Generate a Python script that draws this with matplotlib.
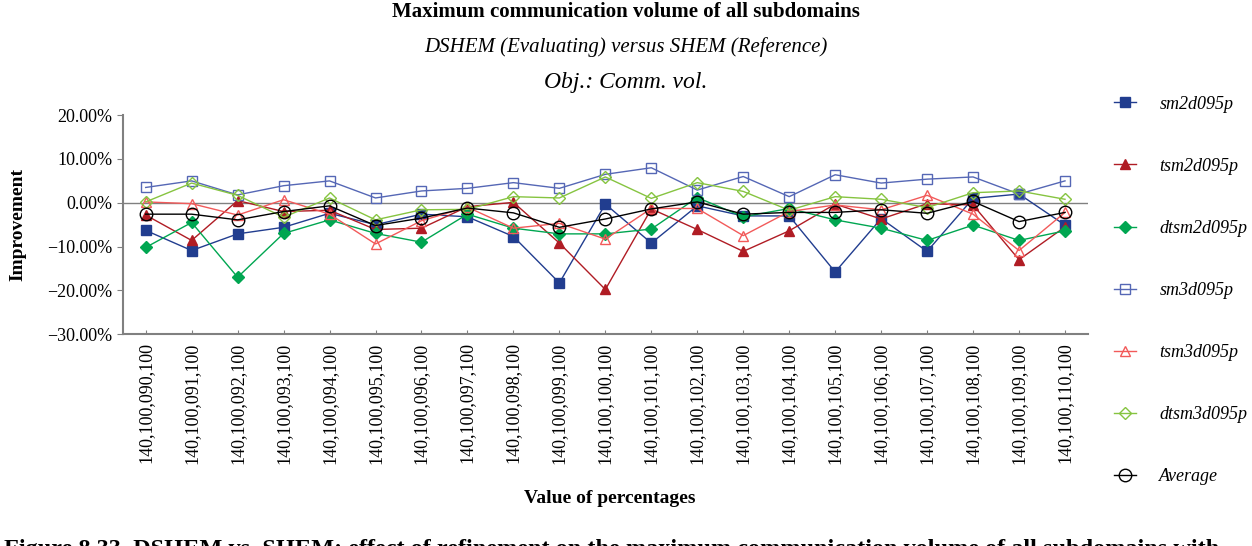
import numpy as np
import matplotlib.pyplot as plt
from matplotlib.ticker import FuncFormatter

plt.rcParams['font.family'] = ['Liberation Serif', 'DejaVu Serif']

categories = ['140,100,%03d,100' % p for p in range(90, 111)]

sm2d = [-6.3, -10.9, -7.1, -5.6, -2.4, -5.0, -2.6, -3.2, -7.7, -18.3, -0.3,
        -9.2, -0.7, -3.0, -3.0, -15.8, -3.6, -11.1, 1.0, 2.0, -5.1]
tsm2d = [-2.8, -8.6, 0.5, -2.0, -1.7, -6.1, -5.8, -0.9, 0.1, -9.2, -19.8,
         -1.4, -6.1, -11.1, -6.4, -0.3, -3.7, -0.2, -0.5, -13.0, -5.5]
dtsm2d = [-10.2, -4.5, -17.0, -7.0, -3.9, -7.0, -9.0, -2.6, -5.8, -7.1, -7.1,
          -6.0, 1.2, -3.2, -1.3, -3.9, -5.8, -8.6, -5.1, -8.6, -6.4]
sm3d = [3.5, 5.0, 1.8, 3.9, 5.0, 1.1, 2.7, 3.3, 4.6, 3.3, 6.5,
        8.0, 2.9, 6.0, 1.4, 6.4, 4.5, 5.4, 5.9, 2.0, 5.0]
tsm3d = [0.2, -0.2, -2.8, 0.7, -2.6, -9.4, -4.1, -1.0, -5.8, -4.7, -8.3,
         -1.3, -1.3, -7.5, -2.0, -0.5, -1.6, 1.7, -2.6, -10.9, -2.2]
dtsm3d = [0.2, 4.5, 1.7, -3.3, 1.1, -3.9, -1.6, -1.5, 1.4, 1.1, 5.9,
          1.0, 4.6, 2.6, -1.7, 1.4, 0.8, -1.1, 2.3, 2.7, 0.8]
average = [-2.6, -2.6, -3.9, -2.0, -0.7, -5.2, -3.5, -1.2, -2.3, -5.6, -3.7,
           -1.4, 0.2, -2.6, -2.2, -2.2, -1.6, -2.4, 0.3, -4.3, -2.2]

fig = plt.figure(figsize=(12.52, 5.46), dpi=100)
ax = fig.add_axes([0.098, 0.388, 0.771, 0.401])

x = np.arange(len(categories))
series = [
    ('sm2d095p', sm2d, 's', '#213D8F', '#213D8F'),
    ('tsm2d095p', tsm2d, '^', '#B01C24', '#B01C24'),
    ('dtsm2d095p', dtsm2d, 'D', '#00A651', '#00A651'),
    ('sm3d095p', sm3d, 's', '#5567B5', 'none'),
    ('tsm3d095p', tsm3d, '^', '#F25A5A', 'none'),
    ('dtsm3d095p', dtsm3d, 'D', '#86C440', 'none'),
    ('Average', average, 'o', 'black', 'none'),
]
for name, vals, m, c, fc in series:
    ms = 9 if m == 'o' else 7
    if m == 'D':
        ms = 6
    ax.plot(x, vals, marker=m, color=c, markerfacecolor=fc, markeredgecolor=c,
            markersize=ms, linewidth=1, label=name)

ax.axhline(0, color='#808080', linewidth=1, zorder=0)
ax.set_ylim(-30, 20)
ax.set_xlim(-0.5, len(categories) - 0.5)
ax.set_yticks([20, 10, 0, -10, -20, -30])
ax.yaxis.set_major_formatter(FuncFormatter(lambda v, p: '%.2f%%' % v if v >= 0 else '\u2212%.2f%%' % -v))
ax.set_xticks(x)
ax.set_xticklabels(categories, rotation=90, fontsize=13)
ax.tick_params(axis='y', labelsize=13, length=4, color='#808080')
ax.tick_params(axis='x', direction='in', length=3, color='#808080', pad=6)
for s in ['top', 'right']:
    ax.spines[s].set_visible(False)
for s in ['left', 'bottom']:
    ax.spines[s].set_color('#808080')
    ax.spines[s].set_linewidth(1.5)

ax.set_ylabel('Improvement', fontsize=14, fontweight='bold', labelpad=15)
fig.text(0.487, 0.087, 'Value of percentages', ha='center', va='center',
         fontsize=14, fontweight='bold')

fig.text(0.5, 0.978, 'Maximum communication volume of all subdomains', ha='center',
         va='center', fontsize=15, fontweight='bold')
fig.text(0.5, 0.913, 'DSHEM (Evaluating) versus SHEM (Reference)', ha='center',
         va='center', fontsize=15, style='italic')
fig.text(0.5, 0.848, 'Obj.: Comm. vol.', ha='center', va='center',
         fontsize=17, style='italic')
fig.text(0.003, -0.006, 'Figure 8.33  DSHEM vs. SHEM: effect of refinement on the maximum communication volume of all subdomains with',
         ha='left', va='center', fontsize=17.5, fontweight='bold')

leg = fig.legend(loc='upper left', bbox_to_anchor=(0.89, 0.825), frameon=False,
                 prop={'style': 'italic', 'size': 13}, labelspacing=2.5,
                 handlelength=1.2, handletextpad=1.3, borderpad=0, borderaxespad=0)

fig.savefig('out.png', dpi=100)
